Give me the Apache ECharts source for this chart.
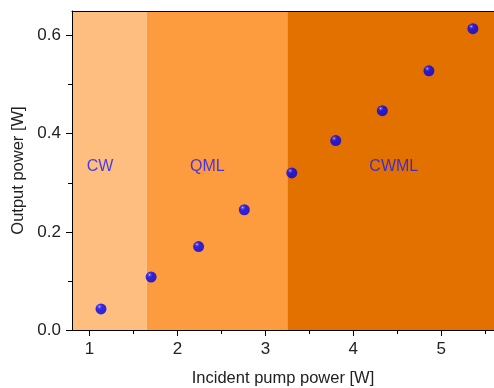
<!DOCTYPE html>
<html>
<head>
<meta charset="utf-8">
<script src="https://cdn.jsdelivr.net/npm/echarts@6/dist/echarts.min.js"></script>
<style>
  html, body { margin: 0; padding: 0; background: #fff; }
  #chart { width: 494px; height: 388px; }
</style>
</head>
<body>
<div id="chart"></div>
<script>
// measured points: incident pump power [W] vs output power [W]
var pumpPower = [1.13, 1.70, 2.24, 2.76, 3.30, 3.80, 4.33, 4.86, 5.36];
var outPower = [0.043, 0.108, 0.170, 0.245, 0.320, 0.386, 0.447, 0.528, 0.614];

// operating regimes
var regimeNames = ['CW', 'QML', 'CWML'];
var regimeEdges = [0.8, 1.65, 3.25, 5.6];
var regimeColors = ['#fdbe80', '#fd9c3e', '#e27100'];
var regimeLabelX = [1.12, 2.34, 4.46];
var regimeLabelY = [0.333, 0.333, 0.333];

// ticks
var xTicks = [1, 2, 3, 4, 5];
var xMinorTicks = [1.5, 2.5, 3.5, 4.5, 5.5];
var yTicks = [0, 0.2, 0.4, 0.6];
var yMinorTicks = [0.1, 0.3, 0.5];

var font = 'Liberation Sans, Arial, sans-serif';
var chart = echarts.init(document.getElementById('chart'));

var areas = regimeNames.map(function (n, i) {
	return [
		{ xAxis: regimeEdges[i], yAxis: 0, itemStyle: { color: regimeColors[i] } },
		{ xAxis: regimeEdges[i + 1], yAxis: 0.65 }
	];
});

var labelData = regimeNames.map(function (n, i) {
	return { value: [regimeLabelX[i], regimeLabelY[i]], name: n };
});

// blue sphere look
var ball = {
	type: 'radial', x: 0.35, y: 0.3, r: 0.75,
	colorStops: [
		{ offset: 0, color: '#eeeeff' },
		{ offset: 0.12, color: '#4040ff' },
		{ offset: 0.35, color: '#0000ff' },
		{ offset: 1, color: '#0000d8' }
	]
};

// axes go on their own layer so the bands never cover the frame
var axisZl = 1;
var line = { show: true, onZero: false, lineStyle: { color: '#000', width: 1 } };
var noLine = { show: false, onZero: false };

var option = {
	animation: false,
	grid: { left: 72, top: 11, width: 422, height: 319, outerBoundsMode: 'none', containLabel: false },
	xAxis: [{
		type: 'value', min: 0.8, max: 5.6, position: 'bottom', zlevel: axisZl,
		name: 'Incident pump power [W]', nameLocation: 'middle', nameGap: 40,
		nameTextStyle: { fontFamily: font, fontSize: 16.5, color: '#222' },
		axisLine: line,
		axisTick: { show: true, customValues: xTicks, length: 6, lineStyle: { color: '#000' } },
		axisLabel: { customValues: xTicks, fontFamily: font, fontSize: 17, color: '#222', margin: 11 },
		splitLine: { show: false }
	}, {
		type: 'value', min: 0.8, max: 5.6, position: 'bottom', zlevel: axisZl,
		axisLine: noLine,
		axisTick: { show: true, customValues: xMinorTicks, length: 4, lineStyle: { color: '#000' } },
		axisLabel: { show: false },
		splitLine: { show: false }
	}, {
		type: 'value', min: 0.8, max: 5.6, position: 'top', zlevel: axisZl,
		axisLine: line,
		axisTick: { show: false },
		axisLabel: { show: false },
		splitLine: { show: false }
	}],
	yAxis: [{
		type: 'value', min: 0, max: 0.65, position: 'left', zlevel: axisZl,
		name: 'Output power [W]', nameLocation: 'middle', nameGap: 41,
		nameTextStyle: { fontFamily: font, fontSize: 16.5, color: '#222' },
		axisLine: line,
		axisTick: { show: true, customValues: yTicks, length: 6, lineStyle: { color: '#000' } },
		axisLabel: {
			customValues: yTicks, fontFamily: font, fontSize: 17, color: '#222', margin: 11,
			formatter: function (v) { return v.toFixed(1); }
		},
		splitLine: { show: false }
	}, {
		type: 'value', min: 0, max: 0.65, position: 'left', zlevel: axisZl,
		axisLine: noLine,
		axisTick: { show: true, customValues: yMinorTicks, length: 4, lineStyle: { color: '#000' } },
		axisLabel: { show: false },
		splitLine: { show: false }
	}],
	series: [{
		// background bands only
		name: 'bands',
		type: 'scatter',
		data: [],
		silent: true,
		markArea: { silent: true, itemStyle: { opacity: 1 }, data: areas }
	}, {
		name: 'regimes',
		type: 'scatter',
		data: labelData,
		symbolSize: 0,
		silent: true,
		label: {
			show: true, position: 'inside',
			formatter: function (p) { return p.name; },
			fontFamily: font, fontSize: 16, color: '#1a1aff'
		},
		z: 5
	}, {
		name: 'output',
		type: 'scatter',
		data: pumpPower.map(function (x, i) { return [x, outPower[i]]; }),
		symbol: 'circle',
		symbolSize: 11,
		itemStyle: { color: ball },
		z: 6
	}]
};
chart.setOption(option);
</script>
</body>
</html>
